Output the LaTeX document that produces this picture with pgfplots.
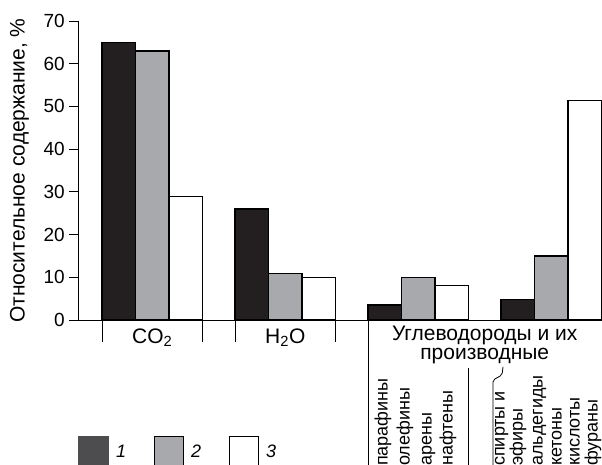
\documentclass[border=0pt]{standalone}
\usepackage{fontspec}
\setmainfont{Liberation Sans}
\usepackage{pgfplots}
\pgfplotsset{compat=1.18}
\definecolor{barblack}{HTML}{231F20}
\definecolor{bargray}{HTML}{A7A9AC}
\definecolor{legdark}{HTML}{4D4D4F}
\begin{document}
\begin{tikzpicture}
\useasboundingbox (-78bp,-145bp) rectangle (524bp,320bp);
\clip (-78bp,-145bp) rectangle (524bp,320bp);
\begin{axis}[
  at={(0,0)}, anchor=south west,
  scale only axis, width=523.5bp, height=299bp,
  xmin=0.441, xmax=4.378, ymin=0, ymax=70,
  axis lines=left, axis line style={-, line width=0.9bp},
  xtick=\empty, ytick={0,10,...,70},
  tick align=outside, major tick length=9bp,
  tick style={line width=0.9bp, black},
  yticklabel style={font=\fontsize{19bp}{22bp}\selectfont, inner sep=0pt, xshift=-4bp},
  /pgf/number format/assume math mode=true,
  ylabel={Относительное содержание, \%},
  every axis y label/.style={at={(axis description cs:-0.107,0.5)}, rotate=90, anchor=mid, font=\fontsize{21bp}{24bp}\selectfont},
  ybar=0pt, bar width=0.252,
  clip=false,
  legend columns=3,
  legend style={at={(0,0)}, anchor=north west, yshift=-116bp, draw=none, fill=none,
    inner sep=0pt, outer sep=0pt,
    nodes={inner sep=0pt, font=\fontsize{18bp}{20bp}\selectfont\itshape},
    /tikz/every odd column/.append style={column sep=7bp},
    /tikz/every even column/.append style={column sep=28bp}},
]
\addplot[fill=barblack, draw=black, line width=1.2bp,
  legend image code/.code={\fill[legdark] (0bp,-15bp) rectangle (30bp,15bp);}]
  coordinates {(1,64.9) (2,26) (3,3.5) (4,4.8)};
\addlegendentry{1}
\addplot[fill=bargray, draw=black, line width=1.2bp,
  legend image code/.code={\draw[fill=bargray, line width=1.2bp] (0.6bp,-15bp) rectangle (29.4bp,15bp);}]
  coordinates {(1,63) (2,10.9) (3,10) (4,15)};
\addlegendentry{2}
\addplot[fill=white, draw=black, line width=1.2bp,
  legend image code/.code={\draw[fill=white, line width=1.2bp] (0.6bp,-15bp) rectangle (29.4bp,15bp);}]
  coordinates {(1,29) (2,10) (3,8) (4,51.3)};
\addlegendentry{3}
% category ticks below the axis
\draw[line width=0.9bp] (axis cs:0.622,0) -- ++(0pt,-22bp);
\draw[line width=0.9bp] (axis cs:1.378,0) -- ++(0pt,-22bp);
\draw[line width=0.9bp] (axis cs:1.622,0) -- ++(0pt,-22bp);
\draw[line width=0.9bp] (axis cs:2.378,0) -- ++(0pt,-22bp);
\draw[line width=0.9bp] (axis cs:2.622,0) -- ++(0pt,-150bp);
\draw[line width=0.9bp] (axis cs:3.378,0) ++(0pt,-48bp) -- ++(0pt,-102bp);
\node[anchor=base, inner sep=0pt, font=\fontsize{21bp}{24bp}\selectfont] at (axis cs:1,0) [yshift=-23bp] {CO\textsubscript{2}};
\node[anchor=base, inner sep=0pt, font=\fontsize{21bp}{24bp}\selectfont] at (axis cs:2,0) [yshift=-23bp] {H\textsubscript{2}O};
\node[anchor=north, align=center, inner sep=0pt, font=\fontsize{21bp}{19bp}\selectfont] at (axis cs:3.5,0) [yshift=-6bp] {Углеводороды и их\\производные};
\end{axis}
\draw[line width=0.8bp, rounded corners=2bp] (415bp,-146bp) -- (415bp,-60bp) -- (424bp,-55bp) -- (425bp,-47bp);
\foreach \x/\t in {307/парафины, 329/олефины, 351/арены, 372/нафтены, 424/спирты и, 442/эфиры, 462/альдегиды, 481/кетоны, 499/кислоты, 517/фураны}
  \node[rotate=90, anchor=mid west, inner sep=0pt, font=\fontsize{18bp}{20bp}\selectfont] at (\x bp,-146bp) {\t};
\end{tikzpicture}
\end{document}
